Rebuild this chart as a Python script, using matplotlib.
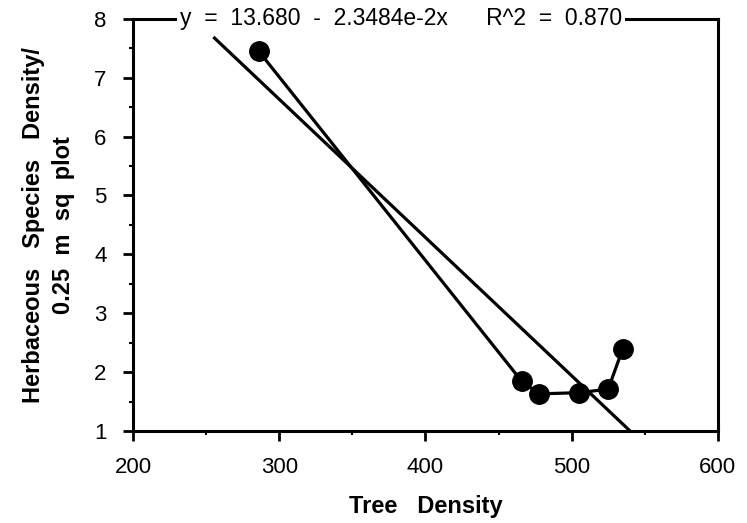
import numpy as np
import matplotlib
matplotlib.use("Agg")
import matplotlib.pyplot as plt
from matplotlib.ticker import MultipleLocator

plt.rcParams['font.family'] = ['Liberation Sans', 'DejaVu Sans']

# Donnees
tree_density = [286, 466, 478, 505, 525, 535]
herb_density = [7.45, 1.84, 1.63, 1.65, 1.71, 2.40]

# Droite de regression
intercept = 13.680
slope = -2.3484e-2
fit_x = [255, 540]
title_text = "y  =  13.680  -  2.3484e-2x      R^2  =  0.870"

fig = plt.figure(figsize=(7.47, 5.23), dpi=100)
ax = fig.add_axes([0.178, 0.176, 0.783, 0.788])

fx = np.array(fit_x)
ax.plot(fx, intercept + slope * fx, color='black', lw=2.3, solid_capstyle='butt')
ax.plot(tree_density, herb_density, color='black', lw=2.3,
        marker='o', markersize=14, markerfacecolor='black')

ax.set_xlim(200, 600)
ax.set_ylim(1, 8)
ax.xaxis.set_major_locator(MultipleLocator(100))
ax.xaxis.set_minor_locator(MultipleLocator(50))
ax.yaxis.set_major_locator(MultipleLocator(1))
ax.yaxis.set_minor_locator(MultipleLocator(0.5))
ax.tick_params(which='major', direction='out', length=7, width=2, labelsize=16)
ax.tick_params(which='minor', direction='out', length=3, width=1.5)
ax.tick_params(axis='x', which='major', pad=12)
ax.tick_params(axis='y', which='major', pad=12)

for sp in ax.spines.values():
    sp.set_linewidth(2.2)

ax.text(0.458, 1.0, title_text, transform=ax.transAxes, ha='center', va='center',
        fontsize=16.5, zorder=10, clip_on=False,
        bbox=dict(facecolor='white', edgecolor='none', pad=2))

ax.set_xlabel('Tree   Density', fontsize=17, fontweight='bold', labelpad=12)
ax.set_ylabel('Herbaceous   Species   Density/\n0.25  m  sq  plot', fontsize=17,
              fontweight='bold', labelpad=14, linespacing=1.35)

fig.savefig('out.png', dpi=100)
